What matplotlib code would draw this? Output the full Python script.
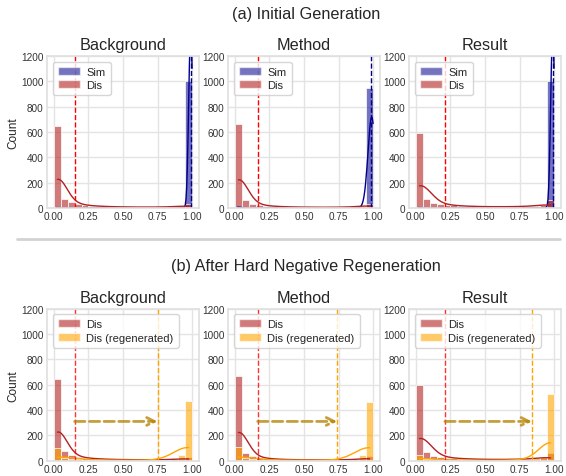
import numpy as np
import matplotlib
matplotlib.use("Agg")
import matplotlib.pyplot as plt
import seaborn as sns
from matplotlib.patches import Patch
from matplotlib.lines import Line2D

sns.set_theme(style="whitegrid", rc={"grid.color": "#e4e4e4", "axes.edgecolor": "#e0e0e0"})
plt.rcParams["font.family"] = ["Liberation Sans", "DejaVu Sans"]

panels = ["Background", "Method", "Result"]

# 20 bins of width 0.05 between 0 and 1
bin_edges = np.linspace(0, 1, 21)
bin_centers = (bin_edges[:-1] + bin_edges[1:]) / 2

# Sim scores: a tight cluster near 1 plus a few low outliers (value, count)
sim_background_vals = [0.02, 0.5, 0.98, 0.99, 1.0]
sim_background_n = [2, 1, 300, 400, 300]
sim_method_vals = [0.02, 0.3, 0.6, 0.85, 0.94, 0.97, 0.99, 1.0]
sim_method_n = [8, 2, 2, 3, 8, 200, 450, 300]
sim_result_vals = [0.02, 0.5, 0.98, 0.99, 1.0]
sim_result_n = [2, 1, 300, 400, 300]

# Dis / regenerated counts per bin
dis_background = [645, 75, 45, 30, 22, 18, 14, 12, 10, 9, 8, 8, 7, 7, 7, 8, 9, 10, 12, 30]
dis_method = [665, 60, 35, 25, 18, 14, 11, 9, 8, 7, 7, 6, 6, 6, 6, 7, 8, 9, 12, 35]
dis_result = [595, 70, 40, 30, 25, 20, 16, 14, 12, 11, 10, 10, 10, 10, 11, 12, 14, 16, 20, 60]

regen_background = [100, 25, 15, 10, 8, 6, 5, 4, 4, 3, 3, 3, 3, 3, 4, 5, 8, 15, 45, 470]
regen_method = [110, 20, 12, 8, 6, 5, 4, 4, 3, 3, 3, 3, 3, 3, 4, 5, 8, 15, 45, 465]
regen_result = [45, 15, 10, 8, 6, 5, 4, 4, 3, 3, 3, 3, 3, 4, 5, 8, 12, 20, 30, 530]

# means shown as dashed vertical lines
sim_mean = [0.99, 0.985, 0.99]
dis_mean = [0.15, 0.165, 0.21]
regen_mean = [0.75, 0.74, 0.84]

sim_vals = [sim_background_vals, sim_method_vals, sim_result_vals]
sim_n = [sim_background_n, sim_method_n, sim_result_n]
dis_counts = [dis_background, dis_method, dis_result]
regen_counts = [regen_background, regen_method, regen_result]

SIM_COLOR = "darkblue"
DIS_COLOR = "firebrick"
REGEN_COLOR = "orange"
ARROW_Y = 310


def hist_kde(ax, values, counts, color, alpha):
    x = np.repeat(values, counts)
    sns.histplot(x=x, bins=bin_edges, kde=True, color=color, alpha=alpha,
                 ax=ax, line_kws={"linewidth": 1})


def style_axes(ax, i, title):
    ax.set_xlim(-0.05, 1.05)
    ax.set_ylim(0, 1200)
    ax.set_xticks([0, 0.25, 0.5, 0.75, 1.0])
    ax.set_yticks(range(0, 1201, 200))
    ax.tick_params(axis="both", length=0, labelsize=7.2, labelcolor="#333333")
    ax.tick_params(axis="x", pad=2.5)
    ax.tick_params(axis="y", pad=2.5)
    ax.set_title(title, fontsize=11.7, pad=5)
    if i == 0:
        ax.set_ylabel("Count", fontsize=8.5, labelpad=1.5)
    else:
        ax.set_ylabel("")


def add_legend(ax, handles):
    ax.legend(handles=handles, loc="upper left", fontsize=8, handlelength=2.0,
              handletextpad=0.6, labelspacing=0.3, borderpad=0.45)


fig = plt.figure(figsize=(5.66, 4.77), dpi=100)

lefts = [47 / 566, 228 / 566, 409 / 566]
width = 152 / 566
height = 152 / 477
row_bottoms = [1 - 209 / 477, 1 - 461.7 / 477]

# (a) initial generation
for i, name in enumerate(panels):
    ax = fig.add_axes([lefts[i], row_bottoms[0], width, height])
    hist_kde(ax, sim_vals[i], sim_n[i], SIM_COLOR, 0.55)
    hist_kde(ax, bin_centers, dis_counts[i], DIS_COLOR, 0.6)
    ax.axvline(sim_mean[i], color=SIM_COLOR, ls="--", lw=1)
    ax.axvline(dis_mean[i], color="red", ls="--", lw=1)
    style_axes(ax, i, name)
    add_legend(ax, [Patch(facecolor=SIM_COLOR, alpha=0.55, label="Sim"),
                    Patch(facecolor=DIS_COLOR, alpha=0.6, label="Dis")])

# (b) after hard negative regeneration
for i, name in enumerate(panels):
    ax = fig.add_axes([lefts[i], row_bottoms[1], width, height])
    hist_kde(ax, bin_centers, dis_counts[i], DIS_COLOR, 0.6)
    hist_kde(ax, bin_centers, regen_counts[i], REGEN_COLOR, 0.6)
    ax.axvline(dis_mean[i], color="red", ls="--", lw=1, alpha=0.8)
    ax.axvline(regen_mean[i], color=REGEN_COLOR, ls="--", lw=1)
    ax.annotate("", xy=(regen_mean[i], ARROW_Y), xytext=(dis_mean[i], ARROW_Y),
                arrowprops=dict(arrowstyle="->", linestyle="--", lw=2,
                                color="darkgoldenrod", alpha=0.8,
                                mutation_scale=14, shrinkA=0, shrinkB=0))
    style_axes(ax, i, name)
    add_legend(ax, [Patch(facecolor=DIS_COLOR, alpha=0.6, label="Dis"),
                    Patch(facecolor=REGEN_COLOR, alpha=0.6, label="Dis (regenerated)")])

fig.text(0.54, 1 - 14 / 477, "(a) Initial Generation", ha="center", va="center", fontsize=11.7)
fig.text(0.54, 1 - 267 / 477, "(b) After Hard Negative Regeneration", ha="center", va="center", fontsize=11.7)
fig.add_artist(Line2D([0.03, 0.99], [1 - 240 / 477] * 2, color="lightgray", lw=2))

fig.savefig("out.png", dpi=100)
